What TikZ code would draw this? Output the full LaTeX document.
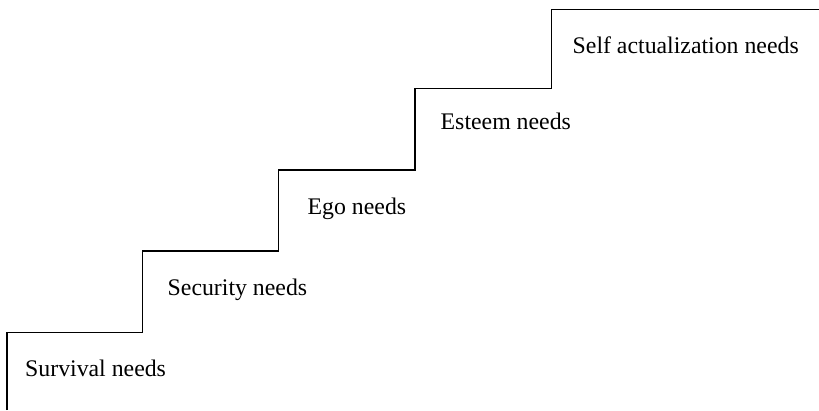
\documentclass[tikz,border=0pt]{standalone}
\usepackage{fontspec}
\setmainfont{Liberation Serif}
\begin{document}
\begin{tikzpicture}[x=1pt,y=-1pt,
  stair/.style={line width=1.3pt, line join=miter},
  level/.style={anchor=base west, inner sep=0pt, font=\fontsize{23.8}{28}\selectfont}]
\useasboundingbox (0,0) rectangle (819,410);
% corners of the staircase
\coordinate (s0) at (7,410);
\coordinate (c1) at (7,332.5);
\coordinate (c2) at (142.5,332.5);
\coordinate (c3) at (142.5,251);
\coordinate (c4) at (278.5,251);
\coordinate (c5) at (278.5,170);
\coordinate (c6) at (415,170);
\coordinate (c7) at (415,88.5);
\coordinate (c8) at (551.5,88.5);
\coordinate (c9) at (551.5,9.5);
\coordinate (e) at (819,9.5);
\draw[stair] (s0) -- (c1) -- (c2) -- (c3) -- (c4) -- (c5) -- (c6) -- (c7) -- (c8) -- (c9) -- (e);
% labels on each step
\node[level] (survival) at (25,376) {Survival needs};
\node[level] (security) at (167.5,295) {Security needs};
\node[level] (ego) at (307.5,214.3) {Ego needs};
\node[level] (esteem) at (440.5,129.5) {Esteem needs};
\node[level] (self) at (572.5,53) {Self actualization needs};
\end{tikzpicture}
\end{document}
